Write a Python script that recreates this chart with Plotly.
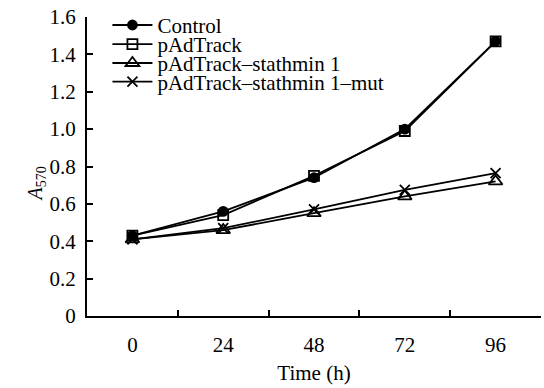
import plotly.graph_objects as go

times = ["0", "24", "48", "72", "96"]
control = [0.43, 0.56, 0.74, 1.00, 1.47]
padtrack = [0.43, 0.54, 0.75, 0.99, 1.47]
stathmin = [0.41, 0.46, 0.55, 0.64, 0.72]
stathmin_mut = [0.41, 0.47, 0.57, 0.675, 0.765]
y_ticks = [0, 0.2, 0.4, 0.6, 0.8, 1.0, 1.2, 1.4, 1.6]
y_ticktext = ["0", "0.2", "0.4", "0.6", "0.8", "1.0", "1.2", "1.4", "1.6"]

names = ["Control", "pAdTrack", "pAdTrack\u2013stathmin 1", "pAdTrack\u2013stathmin 1\u2013mut"]
series = [control, padtrack, stathmin, stathmin_mut]
symbols = ["circle", "square-open", "triangle-up-open", "x-thin-open"]
sizes = [9, 10, 12, 10]
legend_ids = ["legend", "legend2", "legend3", "legend4"]
legend_y = [0.972, 0.908, 0.845, 0.783]

FAM = "Times New Roman"
font = dict(family=FAM, size=21, color="black")

fig = go.Figure()
for n, s, sym, sz, lid in zip(names, series, symbols, sizes, legend_ids):
    fig.add_trace(go.Scatter(
        x=times, y=s, name=n, mode="lines+markers", legend=lid,
        line=dict(color="black", width=1.8),
        marker=dict(symbol=sym, size=sz, color="black",
                    line=dict(color="black", width=1.8)),
    ))

layout_legends = {}
for lid, ly in zip(legend_ids, legend_y):
    layout_legends[lid] = dict(x=0.045, y=ly, xanchor="left", yanchor="middle",
                               bgcolor="rgba(0,0,0,0)", font=font,
                               borderwidth=0, itemwidth=40)

fig.update_layout(
    width=544, height=388,
    margin=dict(l=87, r=3, t=17, b=72),
    paper_bgcolor="white", plot_bgcolor="white",
    font=font,
    showlegend=True,
    **layout_legends,
    xaxis=dict(
        type="category", tickson="boundaries", ticks="inside", ticklen=6,
        range=[-0.5, 4.5],
        tickcolor="black", tickwidth=1.5, automargin=False,
        showline=True, linecolor="black", linewidth=2, showgrid=False,
        zeroline=False, title=dict(text="Time (h)", standoff=9, font=font),
        tickfont=font, ticklabelstandoff=9,
    ),
    yaxis=dict(
        range=[0, 1.6], tickvals=y_ticks, ticktext=y_ticktext,
        ticks="inside", ticklen=6, tickcolor="black", tickwidth=1.5,
        automargin=False,
        showline=True, linecolor="black", linewidth=2, showgrid=False,
        zeroline=False, tickfont=font, ticklabelstandoff=5,
    ),
    annotations=[dict(
        text="<i>A</i><sub>570</sub>", xref="paper", yref="paper",
        x=-0.112, y=0.44, xanchor="center", yanchor="middle",
        textangle=-90, showarrow=False, font=dict(family=FAM, size=20, color="black"),
    )],
)
fig.write_html("out.html", post_script="document.body.style.margin='0';",
               config={"displayModeBar": False})
